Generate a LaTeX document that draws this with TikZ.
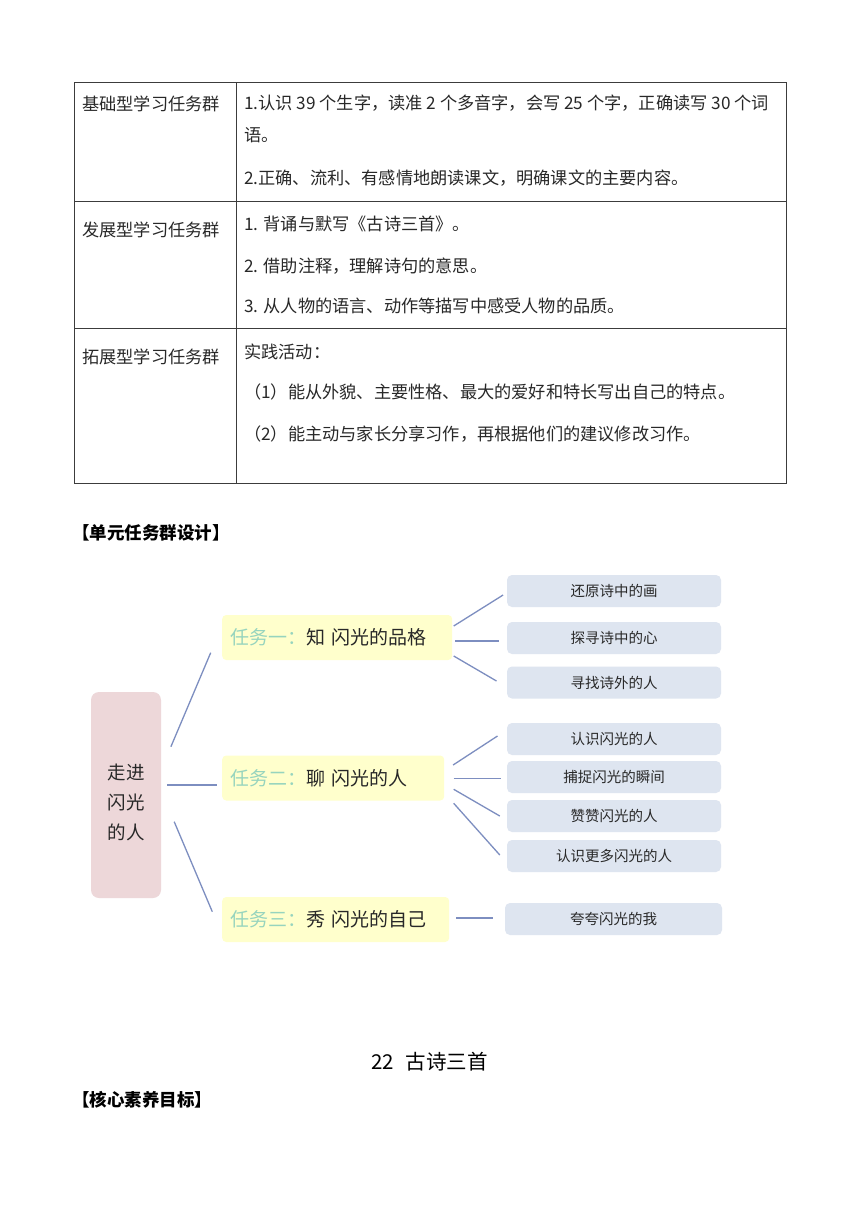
\documentclass[tikz,border=0pt]{standalone}
\usepackage{fontspec}
\setmainfont{Noto Sans CJK SC}
\usetikzlibrary{positioning}
\definecolor{linkblue}{RGB}{125,142,192}
\definecolor{taskyellow}{RGB}{255,255,204}
\definecolor{leafgrey}{RGB}{222,229,240}
\definecolor{rootpink}{RGB}{237,215,217}
\definecolor{tasklabel}{RGB}{150,212,190}
\definecolor{tablegrey}{RGB}{60,60,60}
\definecolor{inkdark}{RGB}{40,40,40}

\begin{document}
\begin{tikzpicture}[x=1pt, y=-1pt, every node/.style={inner sep=0pt, text=inkdark},
    cell/.style={anchor=west, font=\fontsize{17.2}{20}\selectfont},
    heading/.style={anchor=west, font=\fontsize{17.5}{20}\selectfont\bfseries, text=black},
    task/.style={anchor=west, fill=taskyellow, rounded corners=4pt, minimum height=45pt, text width=214pt, inner xsep=8pt, font=\fontsize{19}{22}\selectfont},
    leaf/.style={fill=leafgrey, rounded corners=5pt, minimum width=214pt, minimum height=32pt, font=\fontsize{14.5}{17}\selectfont},
    link/.style={linkblue, line width=1.3pt}]
  \useasboundingbox[fill=white] (0,0) rectangle (860,1216);

  % table
  \draw[tablegrey, line width=0.9pt] (74,82) rectangle (786,483);
  \draw[tablegrey, line width=0.9pt] (236,82) -- (236,483);
  \draw[tablegrey, line width=0.9pt] (74,201) -- (786,201);
  \draw[tablegrey, line width=0.9pt] (74,328) -- (786,328);

  \node[cell] (basic) at (82,104) {基础型学习任务群};
  \node[cell] (basic1) at (244,103) {1.认识 39 个生字，读准 2 个多音字，会写 25 个字，正确读写 30 个词};
  \node[cell] (basic1b) at (244,135) {语。};
  \node[cell] (basic2) at (244,178) {2.正确、流利、有感情地朗读课文，明确课文的主要内容。};

  \node[cell] (grow) at (82,230) {发展型学习任务群};
  \node[cell] (grow1) at (244,224) {1. 背诵与默写《古诗三首》。};
  \node[cell] (grow2) at (244,266) {2. 借助注释，理解诗句的意思。};
  \node[cell] (grow3) at (244,306) {3. 从人物的语言、动作等描写中感受人物的品质。};

  \node[cell] (ext) at (82,357) {拓展型学习任务群};
  \node[cell] (ext0) at (244,352) {实践活动：};
  \node[cell] (ext1) at (244,392) {（1）能从外貌、主要性格、最大的爱好和特长写出自己的特点。};
  \node[cell] (ext2) at (244,434) {（2）能主动与家长分享习作，再根据他们的建议修改习作。};

  \node[heading] (unithead) at (72,533) {【单元任务群设计】};

  % mind map
  \node[fill=rootpink, rounded corners=8pt, minimum width=70pt, minimum height=206pt] (root) at (126,795)
    {\raisebox{-7pt}[\height][\depth]{\parbox{44pt}{\centering\fontsize{18.5}{30}\selectfont 走进\\闪光\\的人}}};

  \node[task] (task1) at (222,637.5) {{\color{tasklabel}任务一：}知\ 闪光的品格};
  \node[task, text width=206pt] (task2) at (222,778) {{\color{tasklabel}任务二：}聊\ 闪光的人};
  \node[task, text width=211pt] (task3) at (222,919.5) {{\color{tasklabel}任务三：}秀\ 闪光的自己};

  \node[leaf] (leaf11) at (614,591) {还原诗中的画};
  \node[leaf] (leaf12) at (614,638) {探寻诗中的心};
  \node[leaf] (leaf13) at (614,682.5) {寻找诗外的人};
  \node[leaf] (leaf21) at (614,739) {认识闪光的人};
  \node[leaf] (leaf22) at (614,777) {捕捉闪光的瞬间};
  \node[leaf] (leaf23) at (614,816) {赞赞闪光的人};
  \node[leaf] (leaf24) at (614,856) {认识更多闪光的人};
  \node[leaf, minimum width=217pt] (leaf31) at (613.5,919) {夸夸闪光的我};

  \draw[link] ([shift={(9.7,-48.3)}]root.east) -- ([shift={(-11.3,15.2)}]task1.west);
  \draw[link] ([shift={(6,-10)}]root.east) -- ([shift={(-5.3,7)}]task2.west);
  \draw[link] ([shift={(13,26.7)}]root.east) -- ([shift={(-9.7,-7.8)}]task3.west);

  \draw[link] ([shift={(1.3,-11.5)}]task1.east) -- ([shift={(-3.7,4)}]leaf11.west);
  \draw[link] ([shift={(3,3.5)}]task1.east) -- ([shift={(-7.7,3)}]leaf12.west);
  \draw[link] ([shift={(1.3,18.5)}]task1.east) -- ([shift={(-10.3,-1.5)}]leaf13.west);

  \draw[link] ([shift={(8.7,-13)}]task2.east) -- ([shift={(-9.3,-3)}]leaf21.west);
  \draw[link] ([shift={(9.3,0.5)}]task2.east) -- ([shift={(-6,1.5)}]leaf22.west);
  \draw[link] ([shift={(9.3,11.3)}]task2.east) -- ([shift={(-7,0)}]leaf23.west);
  \draw[link] ([shift={(9.3,25.3)}]task2.east) -- ([shift={(-7,-1)}]leaf24.west);

  \draw[link] ([shift={(7,-1.5)}]task3.east) -- ([shift={(-12,-1)}]leaf31.west);

  \node[font=\fontsize{20.5}{24}\selectfont, text=black] (lesson) at (429.5,1062) {22\hspace{12pt}古诗三首};
  \node[heading] (corehead) at (72,1100) {【核心素养目标】};
\end{tikzpicture}
\end{document}
